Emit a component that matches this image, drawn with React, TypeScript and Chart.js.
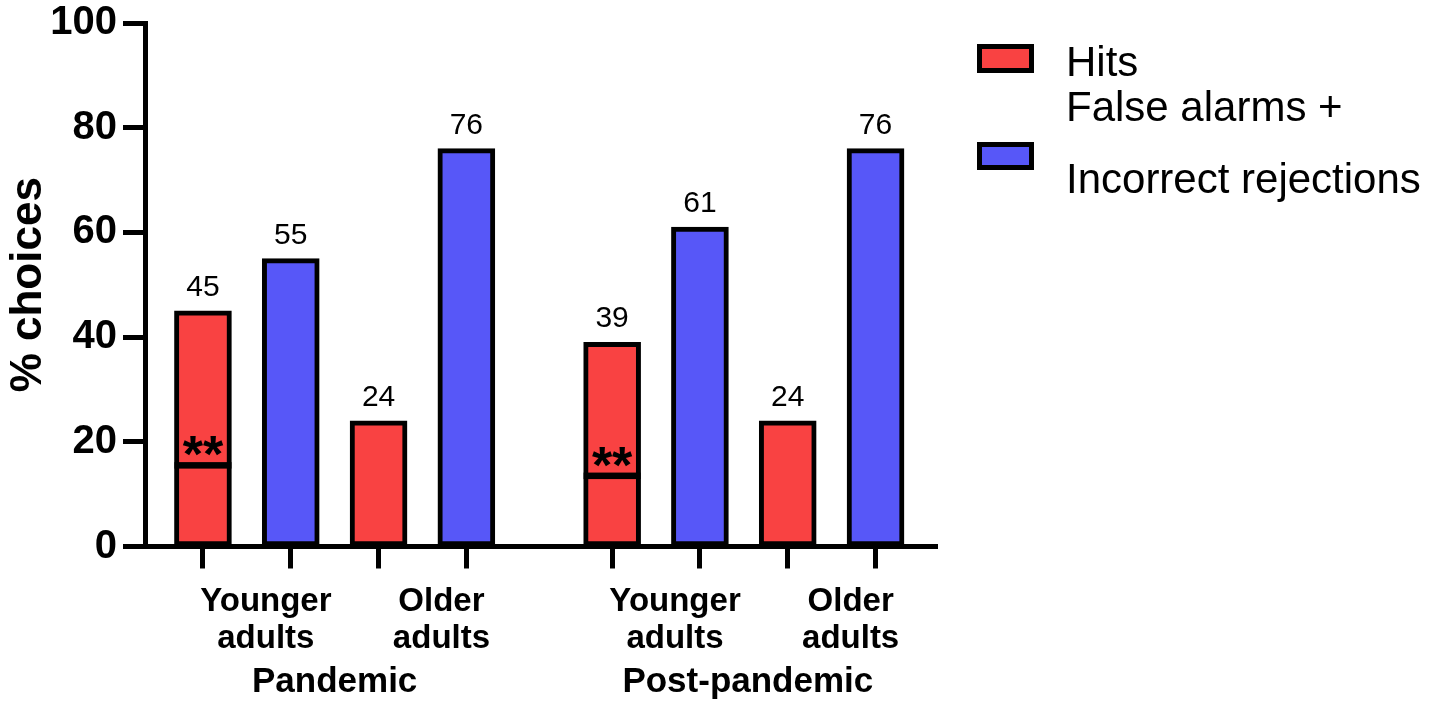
import React, { useEffect, useRef } from 'react';
import { Chart, registerables } from 'chart.js';

Chart.register(...registerables);

// ---------- data ----------
const periods = ['Pandemic', 'Post-pandemic'];
const ageGroups = [['Younger', 'adults'], ['Older', 'adults']];
const seriesNames = ['Hits', 'False alarms + Incorrect rejections'];
const legendLines = [['Hits'], ['False alarms +', 'Incorrect rejections']];
// order: Pandemic-Younger, Pandemic-Older, Post-Younger, Post-Older
const hits = [45, 24, 39, 24];
const falseAlarmsIncorrect = [55, 76, 61, 76];
// level of the marked line inside the Hits bars (with "**")
const hitsMarkLevel: (number | null)[] = [15.5, null, 13.5, null];
const yTickValues = [0, 20, 40, 60, 80, 100];

// ---------- style ----------
const FONT = '"Liberation Sans", Arial, Helvetica, sans-serif';
const RED = '#F94242';
const BLUE = '#5757F8';
const colors = [RED, BLUE];
const GROUP_START = [0, 4.66];

const slot = (g: number, a: number, s: number) => GROUP_START[g] + a * 2 + s;
const allSlots: number[] = [];
periods.forEach((_, g) => ageGroups.forEach((__, a) => [0, 1].forEach((s) => allSlots.push(slot(g, a, s)))));

const toPoints = (vals: number[], s: number) =>
  vals.map((v, i) => ({ x: slot(Math.floor(i / 2), i % 2, s), y: v }));

const annotatePlugin = {
  id: 'annotate',
  afterDatasetsDraw(chart: any) {
    const { ctx } = chart;
    const xs = chart.scales.x;
    const ys = chart.scales.y;
    ctx.save();
    ctx.fillStyle = '#000';
    ctx.textAlign = 'center';
    ctx.textBaseline = 'alphabetic';

    // value labels
    chart.data.datasets.forEach((ds: any, di: number) => {
      const meta = chart.getDatasetMeta(di);
      meta.data.forEach((bar: any, i: number) => {
        ctx.font = `30px ${FONT}`;
        ctx.fillText(String(ds.data[i].y), bar.x, bar.y - 15);
      });
    });

    // marked lines with asterisks
    const hm = chart.getDatasetMeta(0);
    hitsMarkLevel.forEach((lvl, i) => {
      if (lvl == null) return;
      const bar: any = hm.data[i];
      const w = bar.width;
      const py = ys.getPixelForValue(lvl);
      ctx.fillRect(bar.x - w / 2, py - 3.25, w, 6.5);
      ctx.font = `bold 52px ${FONT}`;
      ctx.fillText('**', bar.x, py + 7);
    });

    // category labels
    periods.forEach((p, g) => {
      ageGroups.forEach((lines, a) => {
        const cx = (xs.getPixelForValue(slot(g, a, 0)) + xs.getPixelForValue(slot(g, a, 1))) / 2 + 19;
        ctx.font = `bold 33px ${FONT}`;
        ctx.fillText(lines[0], cx, 611);
        ctx.fillText(lines[1], cx, 648);
      });
      const gx = (xs.getPixelForValue(slot(g, 0, 0)) + xs.getPixelForValue(slot(g, 1, 1))) / 2 + g * 4;
      ctx.font = `bold 35px ${FONT}`;
      ctx.fillText(p, gx, 692);
    });
    ctx.restore();
  },
  afterDraw(chart: any) {
    const { ctx } = chart;
    ctx.save();
    const boxes = [
      { top: 44, h: 29, baselines: [76] },
      { top: 142, h: 28, baselines: [121, 193] },
    ];
    boxes.forEach((b, i) => {
      const left = 977;
      const w = 57;
      ctx.fillStyle = '#000';
      ctx.fillRect(left, b.top, w, b.h);
      ctx.fillStyle = colors[i];
      ctx.fillRect(left + 5, b.top + 5, w - 10, b.h - 10);
      ctx.fillStyle = '#000';
      ctx.font = `42px ${FONT}`;
      ctx.textAlign = 'left';
      ctx.textBaseline = 'alphabetic';
      legendLines[i].forEach((t, k) => ctx.fillText(t, 1066, b.baselines[k]));
    });
    ctx.restore();
  },
};

export default function App() {
  const ref = useRef<HTMLCanvasElement | null>(null);
  useEffect(() => {
    if (!ref.current) return;
    const chart = new Chart(ref.current, {
      type: 'bar',
      data: {
        datasets: [
          {
            label: seriesNames[0],
            data: toPoints(hits, 0),
            backgroundColor: RED,
            borderColor: '#000',
            borderWidth: 5,
            borderSkipped: false,
            barThickness: 57,
            grouped: false,
          },
          {
            label: seriesNames[1],
            data: toPoints(falseAlarmsIncorrect, 1),
            backgroundColor: BLUE,
            borderColor: '#000',
            borderWidth: 5,
            borderSkipped: false,
            barThickness: 57,
            grouped: false,
          },
        ] as any,
      },
      options: {
        animation: false,
        responsive: true,
        maintainAspectRatio: false,
        layout: { padding: { left: 0, right: 504, top: 23, bottom: 0 } },
        plugins: { legend: { display: false }, tooltip: { enabled: false } },
        scales: {
          x: {
            type: 'linear',
            min: -0.66,
            max: 8.36,
            offset: false,
            z: 1,
            afterBuildTicks: (s: any) => {
              s.ticks = allSlots.map((v) => ({ value: v }));
            },
            afterFit: (s: any) => {
              s.height = 159.5;
              s.paddingLeft = 0;
              s.paddingRight = 0;
            },
            ticks: { display: false },
            grid: {
              display: true,
              offset: false,
              drawOnChartArea: false,
              drawTicks: true,
              tickLength: 22,
              tickWidth: 5,
              tickColor: '#000',
            },
            border: { display: true, width: 5, color: '#000' },
          },
          y: {
            type: 'linear',
            min: 0,
            max: 100,
            z: 1,
            afterBuildTicks: (s: any) => {
              s.ticks = yTickValues.map((v) => ({ value: v }));
            },
            afterFit: (s: any) => {
              s.width = 145;
              s.paddingTop = 0;
              s.paddingBottom = 0;
            },
            ticks: {
              color: '#000',
              padding: 6,
              font: { family: FONT, size: 40, weight: 'bold' },
            },
            grid: {
              display: true,
              drawOnChartArea: false,
              drawTicks: true,
              tickLength: 22,
              tickWidth: 5,
              tickColor: '#000',
            },
            border: { display: true, width: 5, color: '#000' },
            title: {
              display: true,
              text: '% choices',
              color: '#000',
              font: { family: FONT, size: 44, weight: 'bold' },
              padding: { top: 2, bottom: 0 },
            },
          },
        },
      } as any,
      plugins: [annotatePlugin],
    });
    return () => chart.destroy();
  }, []);
  return (
    <div style={{ position: 'fixed', left: 0, top: 0, width: 1441, height: 706, background: '#fff' }}>
      <canvas ref={ref} />
    </div>
  );
}
